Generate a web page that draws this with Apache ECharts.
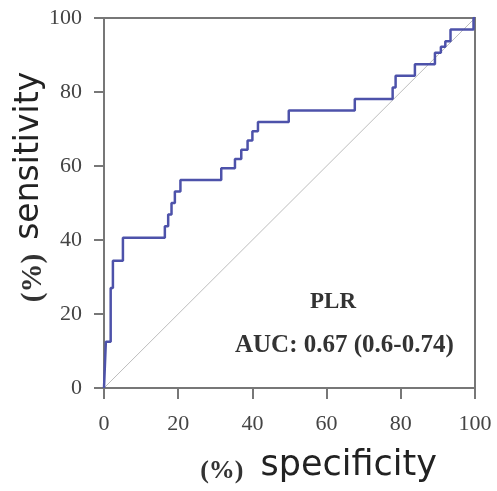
<!DOCTYPE html>
<html>
<head>
<meta charset="utf-8">
<script src="https://cdn.jsdelivr.net/npm/echarts@6/dist/echarts.min.js"></script>
<style>
  html, body { margin: 0; padding: 0; background: #fff; }
  #chart { width: 497px; height: 491px; }
</style>
</head>
<body>
<div id="chart"></div>
<script>
// ROC curve vertices for PLR (x: 100 - specificity, y: sensitivity, both in %)
const rocX = [0, 0.5, 0.5, 1.8, 1.8, 2.4, 2.4, 5.1, 5.1, 16.4, 16.4, 17.3, 17.3, 18.2, 18.2, 19.1, 19.1, 20.6, 20.6,
  31.6, 31.6, 35.3, 35.3, 37.0, 37.0, 38.7, 38.7, 40.0, 40.0, 41.5, 41.5, 49.8, 49.8, 67.6, 67.6,
  77.8, 77.8, 78.6, 78.6, 83.8, 83.8, 89.2, 89.2, 90.8, 90.8, 92.0, 92.0, 93.4, 93.4, 99.6, 99.6, 100];
const rocY = [0, 0, 12.5, 12.5, 27.0, 27.0, 34.4, 34.4, 40.6, 40.6, 43.75, 43.75, 46.9, 46.9, 50.0, 50.0, 53.1, 53.1, 56.25,
  56.25, 59.4, 59.4, 61.9, 61.9, 64.4, 64.4, 66.9, 66.9, 69.4, 69.4, 71.9, 71.9, 75.0, 75.0, 78.1,
  78.1, 81.25, 81.25, 84.4, 84.4, 87.5, 87.5, 90.6, 90.6, 92.2, 92.2, 93.75, 93.75, 96.9, 96.9, 100, 100];

// chance line
const chanceX = [0, 100];
const chanceY = [0, 100];

const xTicks = [0, 20, 40, 60, 80, 100];
const yTicks = [0, 20, 40, 60, 80, 100];

const markerName = 'PLR';
const aucText = 'AUC: 0.67 (0.6-0.74)';

const zip = (xs, ys) => xs.map((x, i) => [x, ys[i]]);

const axisColor = '#777';
const serif = '"Liberation Serif", "Times New Roman", serif';
const sans = '"DejaVu Sans", "Open Sans", sans-serif';

const chart = echarts.init(document.getElementById('chart'), null, { renderer: 'canvas' });
chart.setOption({
  animation: false,
  backgroundColor: '#fff',
  title: [
    {
      text: markerName, left: 305, top: 286,
      textStyle: { fontFamily: serif, fontWeight: 'bold', fontSize: 23, color: '#333' }
    },
    {
      text: aucText, left: 230, top: 328,
      textStyle: { fontFamily: serif, fontWeight: 'bold', fontSize: 25, color: '#333' }
    }
  ],
  grid: {
    left: 104, right: 22, top: 18, bottom: 103,
    outerBoundsMode: 'none',
    show: true, borderColor: axisColor, borderWidth: 2, backgroundColor: 'transparent'
  },
  xAxis: {
    type: 'value', min: 0, max: 100, interval: 20,
    splitLine: { show: false },
    axisLine: { onZero: false, lineStyle: { color: axisColor, width: 2 } },
    axisTick: { length: 11, lineStyle: { color: axisColor, width: 2 } },
    axisLabel: {
      margin: 25, fontFamily: serif, fontSize: 22, color: '#444',
      customValues: xTicks
    },
    name: '{p|(%)}{t|specificity}',
    nameLocation: 'middle', nameGap: 60,
    nameMoveOverlap: false,
    nameTextStyle: {
      padding: [0, 0, 0, 58],
      rich: {
        p: { fontFamily: serif, fontWeight: 'bold', fontSize: 26, color: '#333', padding: [10, 0, 0, 0] },
        t: { fontFamily: sans, fontSize: 35, color: '#222', padding: [0, 0, 0, 17] }
      }
    }
  },
  yAxis: {
    type: 'value', min: 0, max: 100, interval: 20,
    splitLine: { show: false },
    axisLine: { onZero: false, lineStyle: { color: axisColor, width: 2 } },
    axisTick: { length: 10, lineStyle: { color: axisColor, width: 2 } },
    axisLabel: {
      margin: 22, fontFamily: serif, fontSize: 22, color: '#444',
      customValues: yTicks
    },
    name: '{p|(%)}{t|sensitivity}',
    nameLocation: 'middle', nameGap: 56,
    nameMoveOverlap: false,
    nameTextStyle: {
      padding: [0, 0, 0, 32],
      rich: {
        p: { fontFamily: serif, fontWeight: 'bold', fontSize: 29, color: '#333', padding: [8, 0, 0, 0] },
        t: { fontFamily: sans, fontSize: 33, color: '#222', padding: [0, 0, 0, 14] }
      }
    }
  },
  series: [
    {
      type: 'line', data: zip(chanceX, chanceY), symbol: 'none', silent: true,
      lineStyle: { color: '#bdbdbd', width: 1 }, z: 1
    },
    {
      type: 'line', data: zip(rocX, rocY), symbol: 'none',
      lineStyle: { color: '#4d52aa', width: 2.5 }, z: 3
    }
  ]
});
</script>
</body>
</html>
